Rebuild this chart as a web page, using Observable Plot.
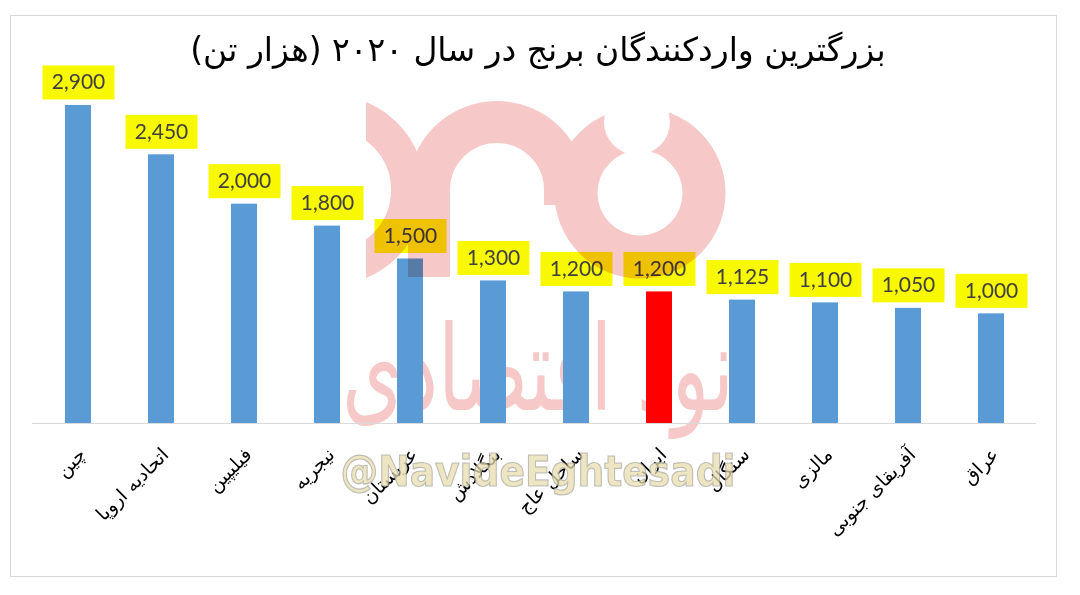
<!DOCTYPE html>
<html>
<head>
<meta charset="utf-8">
<script src="https://cdn.jsdelivr.net/npm/d3@7"></script>
<script src="https://cdn.jsdelivr.net/npm/@observablehq/plot@0.6"></script>
<style>
  html, body { margin: 0; padding: 0; background: #fff; }
  #wrap { position: relative; width: 1080px; height: 595px; overflow: hidden; background: #fff; }
  #frame { position: absolute; left: 10px; top: 15px; width: 1047px; height: 562px; border: 1px solid #d9d9d9; box-sizing: border-box; }
  #title { position: absolute; left: 0; top: 30px; width: 1076px; text-align: center; direction: rtl;
           font-family: "DejaVu Sans", sans-serif; font-size: 33px; color: #000; }
  #chart { position: absolute; left: 0; top: 0; }
  #wm, #wmback { position: absolute; left: 0; top: 0; pointer-events: none; }
</style>
</head>
<body>
<div id="wrap">
  <div id="frame"></div>
  <svg id="wmback" width="1080" height="595"></svg>
  <div id="chart"></div>
  <svg id="wm" width="1080" height="595"></svg>
  <div id="title"></div>
</div>
<script>
const titleText = "بزرگترین واردکنندگان برنج در سال ۲۰۲۰ (هزار تن)";
const countries = ["چین", "اتحادیه اروپا", "فیلیپین", "نیجریه", "عربستان", "بنگلادش", "ساحل عاج", "ایران", "سنگال", "مالزی", "آفریقای جنوبی", "عراق"];
const imports = [2900, 2450, 2000, 1800, 1500, 1300, 1200, 1200, 1125, 1100, 1050, 1000];
const highlight = "ایران";

const data = countries.map((c, i) => ({country: c, value: imports[i]}));
const fmt = d3.format(",");

document.getElementById("title").textContent = titleText;

// yellow label boxes drawn behind each value label (dy of the text is already applied to the group)
function withBoxes(I, scales, values, dims, ctx, next) {
  const g = next(I, scales, values, dims, ctx);
  const ns = "http://www.w3.org/2000/svg";
  for (const i of I) {
    const r = document.createElementNS(ns, "rect");
    r.setAttribute("x", values.x[i] - 36);
    r.setAttribute("y", values.y[i] - 17);
    r.setAttribute("width", 72);
    r.setAttribute("height", 34);
    r.setAttribute("fill", "#f8f800");
    g.insertBefore(r, g.firstChild);
  }
  return g;
}

const chart = Plot.plot({
  width: 1080,
  height: 595,
  marginLeft: 32,
  marginRight: 44,
  marginTop: 94,
  marginBottom: 172,
  style: {background: "transparent"},
  x: {domain: countries, paddingInner: 0.69, paddingOuter: 0.345, axis: null},
  y: {domain: [0, 3000], axis: null},
  marks: [
    Plot.barY(data, {x: "country", y: "value", fill: d => d.country === highlight ? "#ff0000" : "#5b9bd5"}),
    Plot.ruleY([0], {stroke: "#d9d9d9", strokeWidth: 1.2}),
    Plot.text(data, {x: "country", y: "value", text: d => fmt(d.value), dy: -23, fill: "#404040",
      fontSize: 21, fontFamily: "Lato, sans-serif", render: withBoxes}),
    Plot.text(data, {x: "country", y: 0, text: "country", rotate: -45, textAnchor: "end",
      dx: 4, dy: 28, fontSize: 19, fontFamily: "DejaVu Sans, sans-serif", fill: "#000"})
  ]
});
document.getElementById("chart").appendChild(chart);

// watermark: brand text behind the chart, logo over it (multiply)
const pink = "#f6c8c8";
d3.select("#wmback").append("text").attr("x", 538).attr("y", 410).attr("text-anchor", "middle").attr("font-family", "DejaVu Sans")
  .attr("font-size", 118).attr("fill", pink).attr("textLength", 392).attr("lengthAdjust", "spacingAndGlyphs").text("نود اقتصادی");

const wm = d3.select("#wm");
const defs = wm.append("defs");
defs.append("clipPath").attr("id", "wmclip").append("rect").attr("x", 366).attr("y", 90).attr("width", 380).attr("height", 340);
const wg = wm.append("g").style("mix-blend-mode", "multiply");
const lg = wg.append("g").attr("clip-path", "url(#wmclip)");
lg.append("circle").attr("cx", 330).attr("cy", 190).attr("r", 78).attr("fill", "none").attr("stroke", pink).attr("stroke-width", 34);
lg.append("path").attr("d", "M 429 277 L 429 190 A 68 68 0 0 1 565 190 L 565 205").attr("fill", "none").attr("stroke", pink).attr("stroke-width", 42);
lg.append("circle").attr("cx", 640).attr("cy", 193).attr("r", 64).attr("fill", "none").attr("stroke", pink).attr("stroke-width", 43);
wm.append("circle").attr("cx", 637).attr("cy", 122).attr("r", 33).attr("fill", "#fff");
wg.append("circle").attr("cx", 637).attr("cy", 122).attr("r", 25).attr("fill", pink);
wm.append("text").attr("x", 538).attr("y", 486).attr("text-anchor", "middle").attr("font-family", "DejaVu Sans")
  .attr("font-weight", "bold").attr("font-size", 42).attr("fill", "#e8dcae").attr("fill-opacity", 0.75)
  .attr("stroke", "#9a9a9a").attr("stroke-opacity", 0.6).attr("stroke-width", 1.2)
  .attr("textLength", 395).attr("lengthAdjust", "spacingAndGlyphs").text("@NavideEghtesadi");
</script>
</body>
</html>
